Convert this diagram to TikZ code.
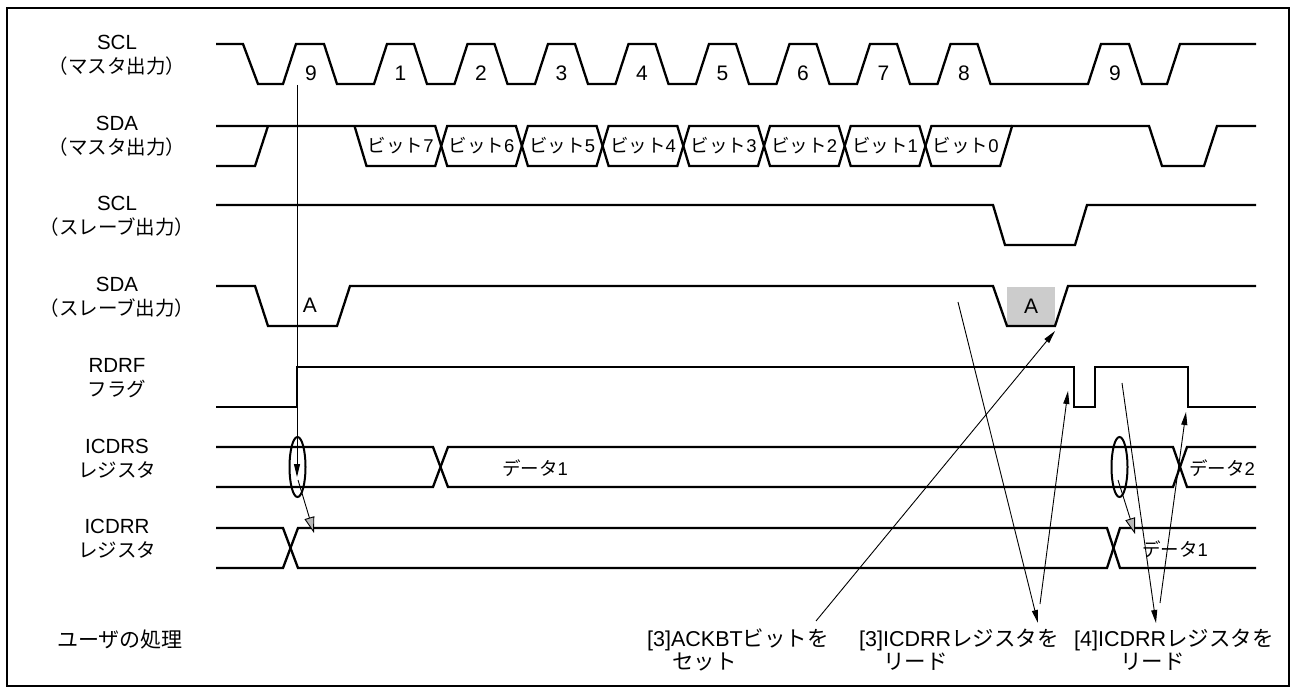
\documentclass[tikz,border=0pt]{standalone}
\usepackage{fontspec}
\setmainfont{Liberation Sans}
\newfontfamily\jp{Noto Sans CJK JP}
\usetikzlibrary{arrows.meta,shapes.geometric}
\begin{document}
\begin{tikzpicture}[x=1pt,y=-1pt,
  wave/.style={line width=2.3pt, line join=miter, line cap=butt},
  ann/.style={line width=0.9pt},
  tipb/.style={-{Triangle[length=13pt,width=6pt]}},
  tipg/.style={-{Triangle[length=16pt,width=10pt,fill=black!28]}},
  lab/.style={font=\fontsize{20.5}{24}\selectfont, align=center, inner sep=0pt},
  num/.style={font=\fontsize{21}{24}\selectfont, inner sep=0pt},
  bit/.style={font=\fontsize{18.5}{22}\selectfont, inner sep=0pt},
  note/.style={font=\fontsize{21.5}{23}\selectfont, align=left, inner sep=0pt, anchor=north west},
  ring/.style={draw, ellipse, line width=2pt, minimum width=16pt, minimum height=60pt, inner sep=0pt},
]
\newcommand{\jps}[1]{{\jp\fontsize{19.5}{24}\selectfont #1}}
\useasboundingbox (0,0) rectangle (1296,693);
\draw[line width=1.8pt] (7,8) rectangle (1289,686);

% left labels
\node[lab] (lSCLm) at (117,55) {SCL\\\jps{（マスタ出力）}};
\node[lab] (lSDAm) at (117,136) {SDA\\\jps{（マスタ出力）}};
\node[lab] (lSCLs) at (117,216) {SCL\\\jps{（スレーブ出力）}};
\node[lab] (lSDAs) at (117,297) {SDA\\\jps{（スレーブ出力）}};
\node[lab] (lRDRF) at (117,378) {RDRF\\\jps{フラグ}};
\node[lab] (lICDRS) at (117,459) {ICDRS\\\jps{レジスタ}};
\node[lab] (lICDRR) at (117,539) {ICDRR\\\jps{レジスタ}};
\node[lab] (lUser) at (120,640) {{\jp\fontsize{21}{24}\selectfont ユーザの処理}};

% SCL master
\draw[wave] (216,44) -- (243,44) -- (258,84) -- (283,84) -- (296,44) -- (324,44) -- (337,84)
 -- (374,84) -- (387,44) -- (414,44) -- (427,84)
 -- (454.5,84) -- (467.5,44) -- (494.5,44) -- (507.5,84)
 -- (535,84) -- (548,44) -- (575,44) -- (588,84)
 -- (615.5,84) -- (628.5,44) -- (655.5,44) -- (668.5,84)
 -- (696,84) -- (709,44) -- (736,44) -- (749,84)
 -- (776.5,84) -- (789.5,44) -- (816.5,44) -- (829.5,84)
 -- (857,84) -- (870,44) -- (897,44) -- (910,84)
 -- (937.5,84) -- (950.5,44) -- (977.5,44) -- (990.5,84)
 -- (1088,84) -- (1101,44) -- (1129,44) -- (1142,84) -- (1167,84) -- (1180,44) -- (1256,44);
\node[num] (n9a) at (311,73) {9};
\node[num] (n1) at (400.5,73) {1};
\node[num] (n2) at (481,73) {2};
\node[num] (n3) at (561.5,73) {3};
\node[num] (n4) at (642,73) {4};
\node[num] (n5) at (722.5,73) {5};
\node[num] (n6) at (803,73) {6};
\node[num] (n7) at (883.5,73) {7};
\node[num] (n8) at (964,73) {8};
\node[num] (n9b) at (1115,73) {9};

% SDA master
\draw[wave] (216,166) -- (255,166) -- (268,126);
\draw[wave] (216,126) -- (435.2,126) -- (447.2,166) -- (515.9,166) -- (527.9,126) -- (596.6,126)
 -- (608.6,166) -- (677.3,166) -- (689.3,126) -- (758,126) -- (770,166) -- (838.7,166)
 -- (850.7,126) -- (919.4,126) -- (931.4,166) -- (1000.1,166) -- (1012.1,126)
 -- (1149,126) -- (1162,166) -- (1204,166) -- (1217,126) -- (1256,126);
\draw[wave] (354.5,126) -- (366.5,166) -- (435.2,166) -- (447.2,126) -- (515.9,126) -- (527.9,166)
 -- (596.6,166) -- (608.6,126) -- (677.3,126) -- (689.3,166) -- (758,166) -- (770,126)
 -- (838.7,126) -- (850.7,166) -- (919.4,166) -- (931.4,126) -- (1012.1,126);
\node[bit] (b7) at (400.85,146) {{\jp ビット}7};
\node[bit] (b6) at (481.55,146) {{\jp ビット}6};
\node[bit] (b5) at (562.25,146) {{\jp ビット}5};
\node[bit] (b4) at (642.95,146) {{\jp ビット}4};
\node[bit] (b3) at (723.65,146) {{\jp ビット}3};
\node[bit] (b2) at (804.35,146) {{\jp ビット}2};
\node[bit] (b1) at (885.05,146) {{\jp ビット}1};
\node[bit] (b0) at (965.75,146) {{\jp ビット}0};

% SCL slave
\draw[wave] (216,205) -- (993,205) -- (1005,245) -- (1075,245) -- (1087,205) -- (1256,205);

% SDA slave
\fill[black!20] (1007,287) rectangle (1055,325);
\draw[wave] (216,286) -- (255,286) -- (268,326) -- (337,326) -- (350,286) -- (993,286)
 -- (1007,326) -- (1055,326) -- (1068,286) -- (1256,286);
\node[num] (ackA) at (310,305) {A};
\node[num] (ackB) at (1031,306) {A};

% RDRF
\draw[wave] (216,407) -- (297,407) -- (297,367) -- (1074,367) -- (1074,407) -- (1095,407)
 -- (1095,367) -- (1188,367) -- (1188,407) -- (1256,407);

% ICDRS
\draw[wave] (216,447) -- (433,447) -- (448,487) -- (1173,487) -- (1187,447) -- (1256,447);
\draw[wave] (216,487) -- (433,487) -- (448,447) -- (1173,447) -- (1187,487) -- (1256,487);
\node[bit] (d1s) at (535,468) {{\jp データ}1};
\node[bit] (d2s) at (1222,468) {{\jp データ}2};

% ICDRR
\draw[wave] (216,528) -- (283,528) -- (298,568) -- (1107,568) -- (1120,528) -- (1256,528);
\draw[wave] (216,568) -- (283,568) -- (298,528) -- (1107,528) -- (1120,568) -- (1256,568);
\node[bit] (d1r) at (1175,549) {{\jp データ}1};

% rings and arrows
\node[ring] (e1) at (297.5,467) {};
\node[ring] (e2) at (1119.5,467) {};
\coordinate (v1) at (297,85);
\coordinate (v1e) at (297,477);
\draw[ann,tipb] (v1) -- (v1e);
\coordinate (g1s) at (298,480);
\coordinate (g1e) at (314,533);
\draw[ann,tipg] (g1s) -- (g1e);
\coordinate (g2s) at (1118,480);
\coordinate (g2e) at (1135,534);
\draw[ann,tipg] (g2s) -- (g2e);

% user notes
\node[note] (u3a) at (647,629) {[3]ACKBT{\jp ビットを}\\\hspace*{25pt}{\jp セット}};
\node[note] (u3b) at (859,629) {[3]ICDRR{\jp レジスタを}\\\hspace*{24pt}{\jp リード}};
\node[note] (u4) at (1074,629) {[4]ICDRR{\jp レジスタを}\\\hspace*{46pt}{\jp リード}};

\coordinate (a1s) at (816,621);
\coordinate (a1e) at (1055,331);
\draw[ann,tipb] (a1s) -- (a1e);
\coordinate (a2s) at (958,302);
\coordinate (a2e) at (1038,623);
\draw[ann,tipb] (a2s) -- (a2e);
\coordinate (a3s) at (1040,604);
\coordinate (a3e) at (1068,391);
\draw[ann,tipb] (a3s) -- (a3e);
\coordinate (a4s) at (1122,383);
\coordinate (a4e) at (1156,623);
\draw[ann,tipb] (a4s) -- (a4e);
\coordinate (a5s) at (1160,603);
\coordinate (a5e) at (1186,412);
\draw[ann,tipb] (a5s) -- (a5e);
\end{tikzpicture}
\end{document}
